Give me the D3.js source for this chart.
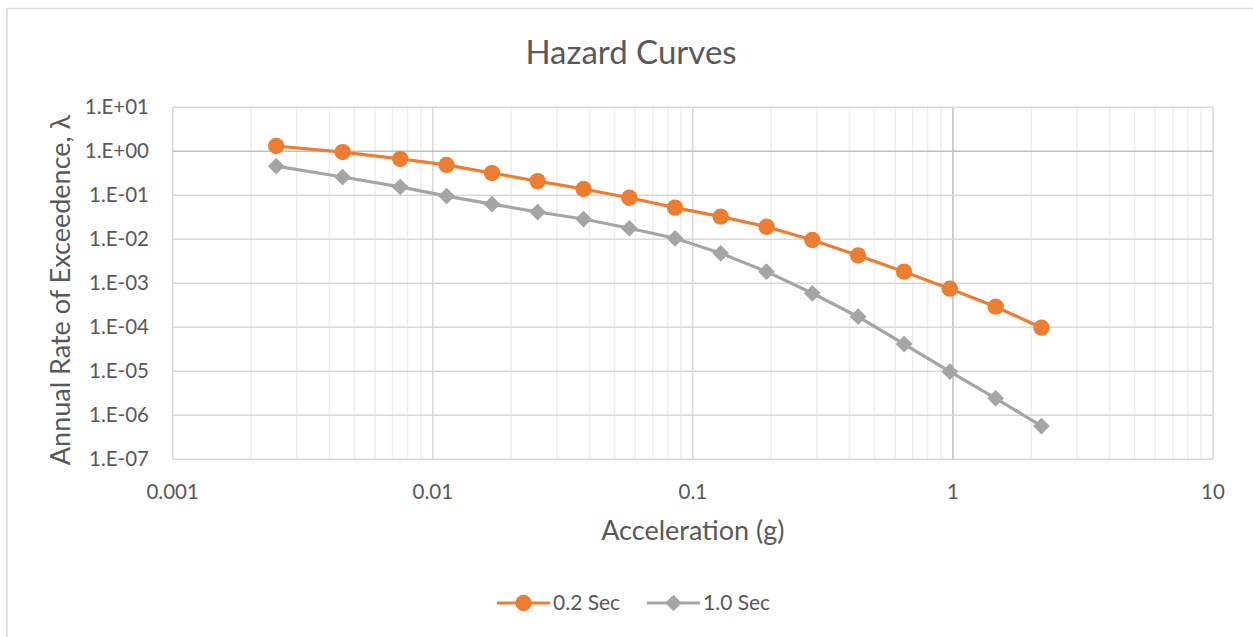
<!DOCTYPE html>
<html>
<head>
<meta charset="utf-8">
<script src="https://cdn.jsdelivr.net/npm/d3@7"></script>
<style>
  body { margin: 0; background: #fff; }
  text { font-family: Lato, "Open Sans", sans-serif; fill: #595959; }
</style>
</head>
<body>
<svg width="1253" height="637"></svg>
<script>
// acceleration values (g)
var accel = [0.0025, 0.0045, 0.0075, 0.0113, 0.0169, 0.0253, 0.038, 0.057, 0.0854,
             0.128, 0.192, 0.288, 0.432, 0.649, 0.973, 1.46, 2.19];
// annual rate of exceedance per series
var rate02 = [1.32, 0.96, 0.67, 0.49, 0.32, 0.21, 0.139, 0.088, 0.0525, 0.0327, 0.0193,
              0.00964, 0.00428, 0.00184, 0.000754, 0.000294, 0.000098];
var rate10 = [0.46, 0.26, 0.155, 0.096, 0.063, 0.0417, 0.0289, 0.0178, 0.01054, 0.00481,
              0.00184, 0.000593, 0.000174, 0.0000417, 0.0000098, 0.00000243, 0.00000057];
var seriesNames = ["0.2 Sec", "1.0 Sec"];
var xTicks = [0.001, 0.01, 0.1, 1, 10];
var xTickLabels = ["0.001", "0.01", "0.1", "1", "10"];
var yTicks = [1e1, 1e0, 1e-1, 1e-2, 1e-3, 1e-4, 1e-5, 1e-6, 1e-7];
var yTickLabels = ["1.E+01", "1.E+00", "1.E-01", "1.E-02", "1.E-03", "1.E-04", "1.E-05", "1.E-06", "1.E-07"];

var svg = d3.select("svg");
var plot = {left: 172.7, right: 1213, top: 107.3, bottom: 459.3};

var x = d3.scaleLog().domain([0.001, 10]).range([plot.left, plot.right]);
var y = d3.scaleLog().domain([1e-7, 1e1]).range([plot.bottom, plot.top]);

// chart border
svg.append("rect")
    .attr("x", 7).attr("y", 8.5)
    .attr("width", 1300).attr("height", 700)
    .attr("fill", "none")
    .attr("stroke", "#d9d9d9")
    .attr("stroke-width", 1.5);

// title
svg.append("text")
    .attr("x", 631).attr("y", 64)
    .attr("text-anchor", "middle")
    .style("font-size", "33px")
    .text("Hazard Curves");

// minor vertical gridlines
var minor = [];
xTicks.slice(0, -1).forEach(function(t) {
    for (var k = 2; k <= 9; k++) minor.push(t * k);
});
svg.append("g").selectAll("line")
    .data(minor).enter().append("line")
    .attr("x1", d => x(d)).attr("x2", d => x(d))
    .attr("y1", plot.top).attr("y2", plot.bottom)
    .attr("stroke", "#eeeeee").attr("stroke-width", 1.5);

// major gridlines
svg.append("g").selectAll("line")
    .data(xTicks).enter().append("line")
    .attr("x1", d => x(d)).attr("x2", d => x(d))
    .attr("y1", plot.top).attr("y2", plot.bottom)
    .attr("stroke", d => d === 1 ? "#bfbfbf" : "#d9d9d9").attr("stroke-width", 1.5);

svg.append("g").selectAll("line")
    .data(yTicks).enter().append("line")
    .attr("y1", d => y(d)).attr("y2", d => y(d))
    .attr("x1", plot.left).attr("x2", plot.right)
    .attr("stroke", d => d === 1 ? "#bfbfbf" : "#d9d9d9").attr("stroke-width", 1.5);

// tick labels
svg.append("g").selectAll("text")
    .data(yTicks).enter().append("text")
    .attr("x", 149).attr("y", d => y(d))
    .attr("dy", "0.35em")
    .attr("text-anchor", "end")
    .style("font-size", "20.5px")
    .text((d, i) => yTickLabels[i]);

svg.append("g").selectAll("text")
    .data(xTicks).enter().append("text")
    .attr("x", d => x(d)).attr("y", 499)
    .attr("text-anchor", "middle")
    .style("font-size", "20.5px")
    .text((d, i) => xTickLabels[i]);

// axis titles
svg.append("text")
    .attr("x", (plot.left + plot.right) / 2).attr("y", 540)
    .attr("text-anchor", "middle")
    .style("font-size", "27px")
    .text("Acceleration (g)");

svg.append("text")
    .attr("transform", "translate(70," + 290 + ") rotate(-90)")
    .attr("text-anchor", "middle")
    .style("font-size", "27px")
    .text("Annual Rate of Exceedence, \u03bb");

// series
var series = [
    {name: seriesNames[0], values: rate02, color: "#ed7d31", symbol: d3.symbolCircle, size: 210, rot: 0},
    {name: seriesNames[1], values: rate10, color: "#a5a5a5", symbol: d3.symbolSquare, size: 140, rot: 45}
];

var line = d3.line()
    .x(d => x(d[0]))
    .y(d => y(d[1]));

series.forEach(function(s) {
    var pts = accel.map((a, i) => [a, s.values[i]]);
    svg.append("path")
        .datum(pts)
        .attr("d", line)
        .attr("fill", "none")
        .attr("stroke", s.color)
        .attr("stroke-width", 3.2)
        .attr("stroke-linejoin", "round");
    svg.append("g").selectAll("path")
        .data(pts).enter().append("path")
        .attr("d", d3.symbol().type(s.symbol).size(s.size))
        .attr("transform", d => "translate(" + x(d[0]) + "," + y(d[1]) + ") rotate(" + s.rot + ")")
        .attr("fill", s.color);
});

// legend
var legend = svg.append("g").attr("transform", "translate(497,603)");
var offsets = [0, 150];
series.forEach(function(s, i) {
    var g = legend.append("g").attr("transform", "translate(" + offsets[i] + ",0)");
    g.append("line")
        .attr("x1", 0).attr("x2", 53)
        .attr("stroke", s.color).attr("stroke-width", 3.2);
    g.append("path")
        .attr("d", d3.symbol().type(s.symbol).size(s.size))
        .attr("transform", "translate(26.5,0) rotate(" + s.rot + ")")
        .attr("fill", s.color);
    g.append("text")
        .attr("x", 56).attr("dy", "0.35em")
        .style("font-size", "21px")
        .text(s.name);
});
</script>
</body>
</html>
